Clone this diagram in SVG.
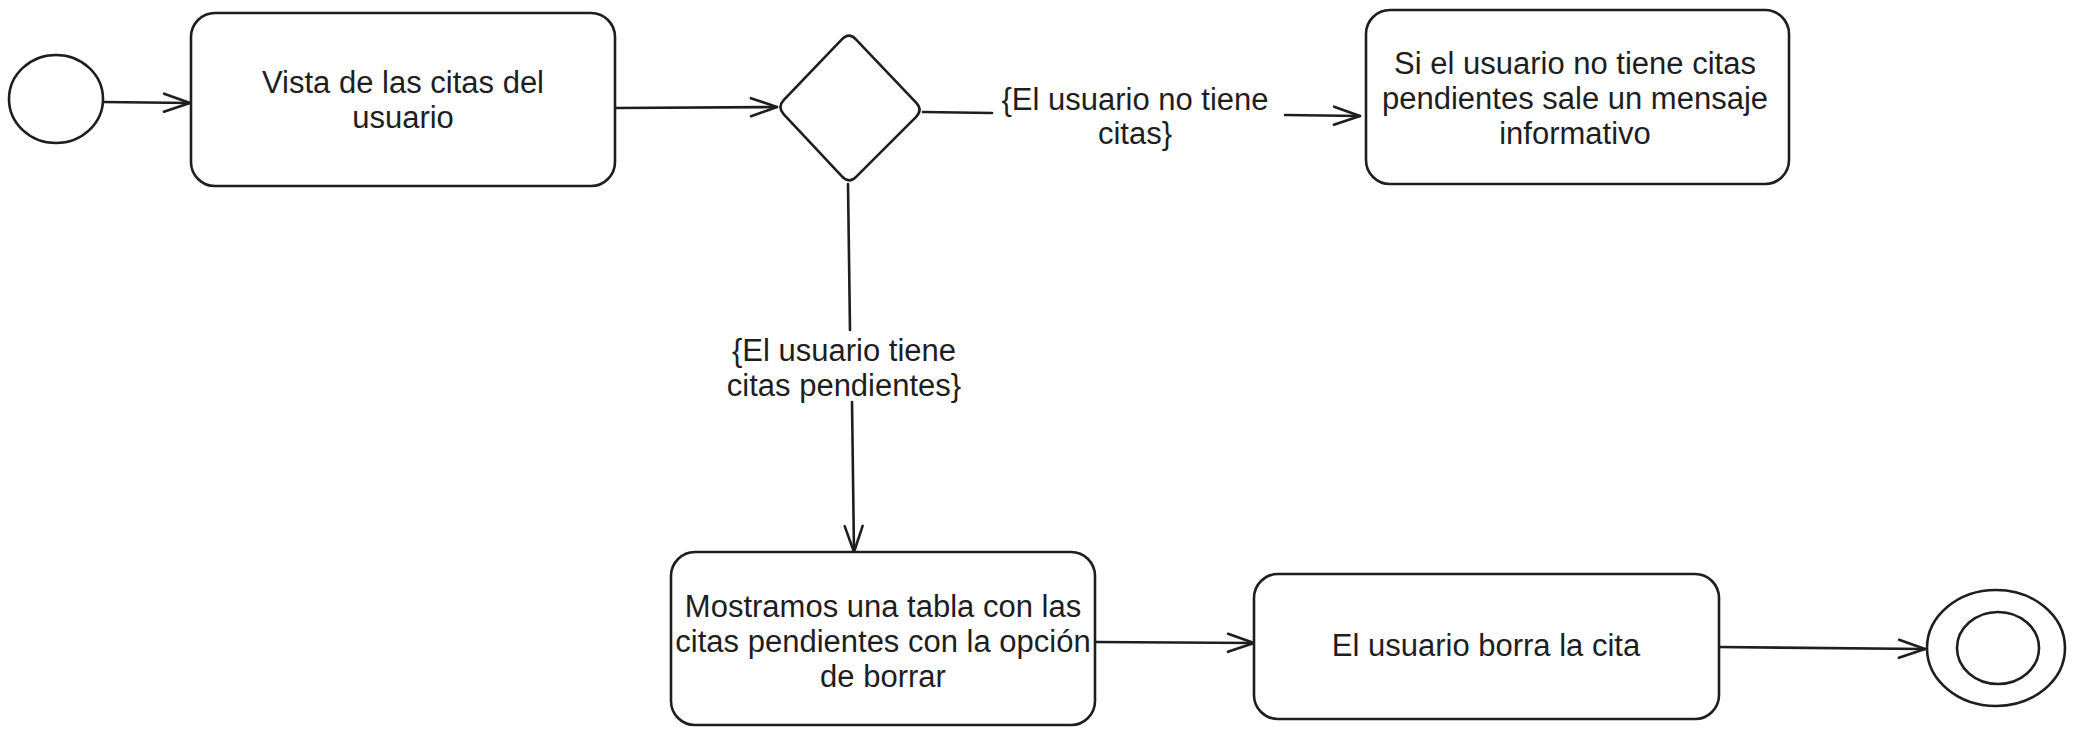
<svg xmlns="http://www.w3.org/2000/svg" width="2075" height="735" viewBox="0 0 2075 735">
<style>
.shape{fill:#ffffff;stroke:#1e1e1e;stroke-width:2.6;stroke-linejoin:round}
.conn{fill:none;stroke:#1e1e1e;stroke-width:2.6;stroke-linecap:round}
.t{font-family:"Liberation Sans",Arial,sans-serif;font-size:31px;fill:#1e1e1e;text-anchor:middle;dominant-baseline:central}
</style>
<defs>
<marker id="arr" markerUnits="userSpaceOnUse" viewBox="-30 -15 34 30" refX="0" refY="0" markerWidth="34" markerHeight="30" orient="auto">
<path d="M-26,-9 L0,0 L-26,9" fill="none" stroke="#1e1e1e" stroke-width="2.6" stroke-linecap="round" stroke-linejoin="round"/>
</marker>
</defs>
<rect width="2075" height="735" fill="#ffffff"/>
<g id="connectors">
<path class="conn" d="M103,102 L190,103" marker-end="url(#arr)"/>
<path class="conn" d="M615,108 L777,107" marker-end="url(#arr)"/>
<path class="conn" d="M923,112 L992,113 M1285,115 L1360,116" marker-end="url(#arr)"/>
<path class="conn" d="M848,184 L850,330 M852,402 L854,552" marker-end="url(#arr)"/>
<path class="conn" d="M1095,642 L1254,643" marker-end="url(#arr)"/>
<path class="conn" d="M1718,647 L1925,649" marker-end="url(#arr)"/>
<text class="t" x="1135" y="99">{El usuario no tiene</text>
<text class="t" x="1135" y="133">citas}</text>
<text class="t" x="844" y="350">{El usuario tiene</text>
<text class="t" x="844" y="385">citas pendientes}</text>
</g>
<g id="start">
<ellipse class="shape" cx="56" cy="99" rx="47" ry="44"/>
</g>
<g id="vista">
<rect class="shape" x="191" y="13" width="424" height="173" rx="24"/>
<text class="t" x="403" y="82">Vista de las citas del</text>
<text class="t" x="403" y="117">usuario</text>
</g>
<g id="decision">
<path class="shape" d="M783.9,99.8 L842.1,39.2 Q849,32 855.9,39.3 L916.1,102.7 Q923,110 915.9,117.1 L856.1,176.9 Q849,184 842.2,176.7 L783.8,114.3 Q777,107 783.9,99.8 Z"/>
</g>
<g id="mensaje">
<rect class="shape" x="1366" y="10" width="423" height="174" rx="24"/>
<text class="t" x="1575" y="63">Si el usuario no tiene citas</text>
<text class="t" x="1575" y="98">pendientes sale un mensaje</text>
<text class="t" x="1575" y="133">informativo</text>
</g>
<g id="tabla">
<rect class="shape" x="671" y="552" width="424" height="173" rx="24"/>
<text class="t" x="883" y="606">Mostramos una tabla con las</text>
<text class="t" x="883" y="641">citas pendientes con la opción</text>
<text class="t" x="883" y="676">de borrar</text>
</g>
<g id="borra">
<rect class="shape" x="1254" y="574" width="465" height="145" rx="24"/>
<text class="t" x="1486" y="645">El usuario borra la cita</text>
</g>
<g id="end">
<ellipse class="shape" cx="1996" cy="648" rx="69" ry="58"/>
<ellipse class="shape" cx="1998" cy="648" rx="41" ry="36"/>
</g>
</svg>
